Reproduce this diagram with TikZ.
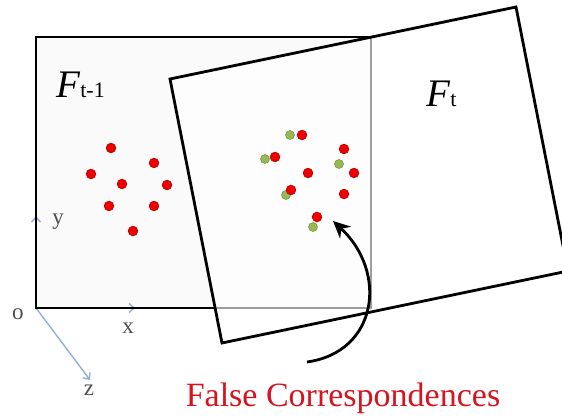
\documentclass[tikz,border=0pt]{standalone}
\usepackage{fontspec}
\setmainfont{Liberation Serif}
\usetikzlibrary{arrows.meta}
\definecolor{axisblue}{RGB}{145,175,215}
\definecolor{labgray}{RGB}{80,80,80}
\definecolor{dotred}{RGB}{240,0,0}
\definecolor{dotredb}{RGB}{190,0,0}
\definecolor{dotgreen}{RGB}{150,185,85}
\definecolor{dotgreenb}{RGB}{120,155,65}
\definecolor{fcred}{RGB}{215,20,30}
\tikzset{
  frame/.style={draw=black, line width=2.5pt, line join=miter},
  axis/.style={draw=axisblue, line width=1.4pt, -{Straight Barb[length=5pt,width=9pt]}},
  axlabel/.style={text=labgray, font=\fontsize{23}{23}\selectfont, inner sep=0pt},
  rdot/.style={circle, fill=dotred, draw=dotredb, line width=0.8pt, minimum size=9.5pt, inner sep=0pt},
  gdot/.style={circle, fill=dotgreen, draw=dotgreenb, line width=0.6pt, minimum size=9pt, inner sep=0pt},
  flabel/.style={inner sep=0pt, anchor=base west},
  curved/.style={draw=black, line width=2.8pt, -{Stealth[length=17pt,width=16pt]}}
}
\begin{document}
\begin{tikzpicture}[x=1pt,y=-1pt]
\useasboundingbox (0,0) rectangle (562,419);
\clip (0,0) rectangle (562,419);
% previous frame F_{t-1}: fill, axes, then border
\fill[black!2] (36,37) rectangle (371,308);
\coordinate (O) at (36,308);
\coordinate (X) at (135,308);
\coordinate (Y) at (36,216);
\coordinate (Z) at (90,380);
\draw[axis] (O) -- (X);
\draw[axis] (O) -- (Y);
\draw[axis] (O) -- (Z);
\path[frame] (36,37) rectangle (371,308);
\node[axlabel] (lo) at (18,314) {o};
\node[axlabel] (lx) at (128,328) {x};
\node[axlabel] (ly) at (58,222) {y};
\node[axlabel] (lz) at (89,390) {z};
% dots of F_{t-1}
\node[rdot] (a1) at (111,148) {};
\node[rdot] (a2) at (154,163) {};
\node[rdot] (a3) at (91,174) {};
\node[rdot] (a4) at (122,184) {};
\node[rdot] (a5) at (167,185) {};
\node[rdot] (a6) at (109,206) {};
\node[rdot] (a7) at (154,206) {};
\node[rdot] (a8) at (133,231) {};
% current frame F_t
\path[frame, line width=2.8pt, fill=white, fill opacity=0.62] (170,79) -- (516,7) -- (568,271) -- (222,343) -- cycle;
% dots of F_t
\node[gdot] (g1) at (290,135) {};
\node[gdot] (g2) at (265,159) {};
\node[gdot] (g3) at (339,164) {};
\node[gdot] (g4) at (286,195) {};
\node[gdot] (g5) at (313,227) {};
\node[rdot] (b1) at (302,135) {};
\node[rdot] (b2) at (275,157) {};
\node[rdot] (b3) at (344,149) {};
\node[rdot] (b4) at (354,173) {};
\node[rdot] (b5) at (308,173) {};
\node[rdot] (b6) at (291,190) {};
\node[rdot] (b7) at (344,194) {};
\node[rdot] (b8) at (317,217) {};
% labels
\node[flabel] (Ftm) at (56,98) {\fontsize{39}{39}\selectfont\textit{F}\fontsize{22}{22}\selectfont t-1};
\node[flabel] (Ft) at (426,107) {\fontsize{39}{39}\selectfont\textit{F}\fontsize{22}{22}\selectfont t};
\node[inner sep=0pt, anchor=base, text=fcred, font=\fontsize{34}{34}\selectfont] (fc) at (343,406) {False Correspondences};
% curved arrow
\coordinate (as) at (307,362);
\coordinate (ae) at (333,221);
\draw[curved] (as) .. controls (378,352) and (388,272) .. (ae);
\end{tikzpicture}
\end{document}
